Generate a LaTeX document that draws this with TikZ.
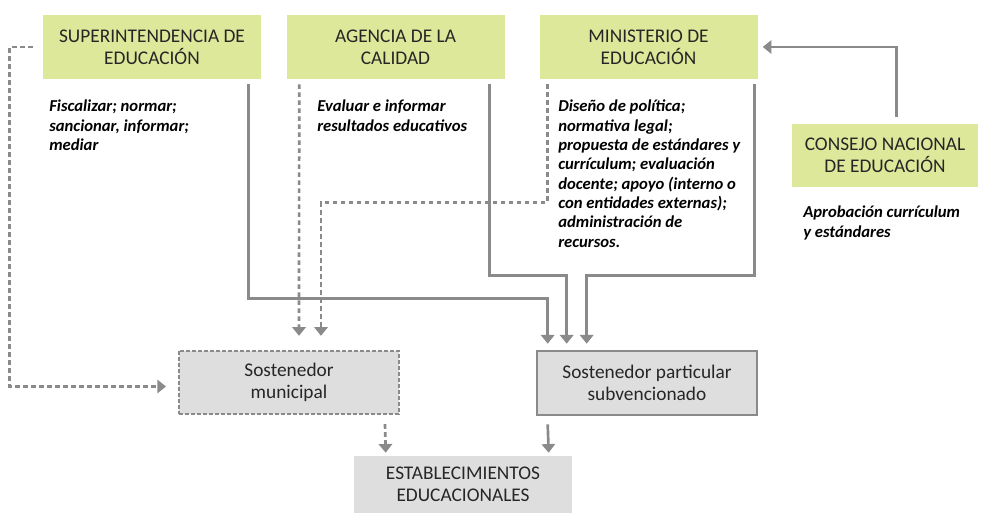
\documentclass[tikz,border=0pt]{standalone}
\usepackage{fontspec}
\setmainfont{Carlito}
\usetikzlibrary{arrows.meta}
\definecolor{olivelight}{HTML}{DDE89A}
\definecolor{boxgray}{HTML}{DEDEDE}
\definecolor{linegray}{HTML}{8A8A8A}
\definecolor{textdark}{HTML}{262626}

\begin{document}
\begin{tikzpicture}[x=0.75pt, y=-0.75pt,
  org/.style={rectangle, fill=olivelight, minimum width=163.5pt,
    minimum height=48pt, align=center, inner sep=0pt, text=textdark,
    font=\fontsize{14.5}{16.5}\selectfont},
  sost/.style={rectangle, fill=boxgray, minimum width=165pt,
    minimum height=47.5pt, align=center, inner sep=0pt, text=textdark,
    font=\fontsize{14.5}{16.5}\selectfont},
  role/.style={anchor=north west, align=left, inner sep=0pt,
    font=\fontsize{12.5}{14.5}\selectfont\bfseries\itshape},
  arr/.style={-{Triangle[width=10pt,length=6.5pt]}, draw=linegray, line width=2pt},
  darr/.style={arr, dash pattern=on 3.5pt off 2.5pt},
]
  \useasboundingbox (0,0) rectangle (983,513);

  % organismos
  \node[org] (sup) at (152,47) {SUPERINTENDENCIA DE\\EDUCACIÓN};
  \node[org] (ag) at (395.5,47) {AGENCIA DE LA\\CALIDAD};
  \node[org] (min) at (648.5,47) {MINISTERIO DE\\EDUCACIÓN};
  \node[org, minimum width=139.5pt, minimum height=47.25pt] (cons) at (885,155.5)
    {CONSEJO NACIONAL\\DE EDUCACIÓN};

  % funciones
  \node[role] (supf) at (49,100) {Fiscalizar; normar;\\sancionar, informar;\\mediar};
  \node[role] (agf) at (317,100) {Evaluar e informar\\resultados educativos};
  \node[role] (minf) at (558,100) {Diseño de política;\\normativa legal;\\propuesta de estándares y\\currículum; evaluación\\docente; apoyo (interno o\\con entidades externas);\\administración de\\recursos.};
  \node[role] (consf) at (803,206) {Aprobación currículum\\y estándares};

  % sostenedores
  \node[sost, draw=linegray, line width=1.5pt, dash pattern=on 3pt off 1.5pt]
    (muni) at (289,382.5) {Sostenedor\\municipal};
  \node[sost, draw=linegray, line width=2pt, minimum height=48pt]
    (part) at (647,383) {Sostenedor particular\\subvencionado};
  \node[sost, minimum width=163.5pt, minimum height=42.75pt]
    (est) at (463,484.5) {ESTABLECIMIENTOS\\EDUCACIONALES};

  % conectores
  \draw[darr] ([shift={(-10,0)}]sup.west) -- ++(-23,0) |- ([shift={(-12,4)}]muni.west);
  \draw[arr] ([shift={(-13,5)}]sup.south east) -- ++(0,214) -| ([shift={(12,-6)}]part.north west);
  \draw[darr] ([shift={(13,5)}]ag.south west) -- ([shift={(121,-14)}]muni.north west);
  \draw[arr] ([shift={(-15,5)}]ag.south east) -- ++(0,191) -| ([shift={(31,-6)}]part.north west);
  \draw[darr] ([shift={(8,5)}]min.south west) -- ++(0,118) -| ([shift={(143,-14)}]muni.north west);
  \draw[arr] ([shift={(-3,5)}]min.south east) -- ++(0,191) -| ([shift={(51,-6)}]part.north west);
  \draw[arr] ([shift={(105,-7)}]cons.north west) |- ([shift={(5,0)}]min.east);
  \draw[darr] ([shift={(207,9)}]muni.south west) -- ([shift={(32,-3)}]est.north west);
  \draw[arr] ([shift={(12,8)}]part.south west) -- ([shift={(195,-3)}]est.north west);
\end{tikzpicture}
\end{document}
